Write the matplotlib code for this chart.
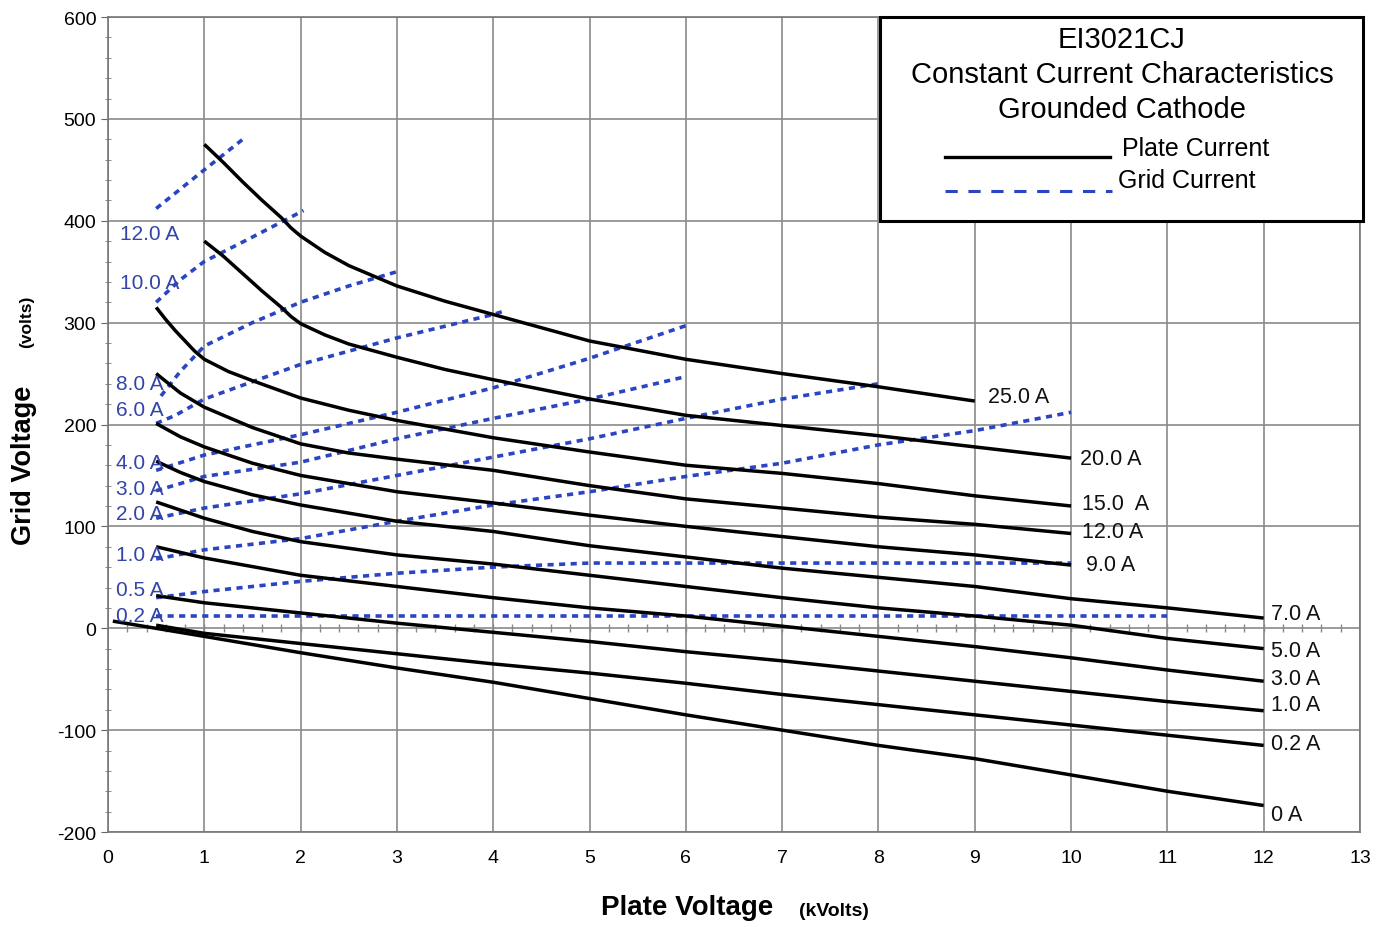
import matplotlib
matplotlib.use("Agg")
import matplotlib.pyplot as plt
from matplotlib.patches import Rectangle
import numpy as np

plt.rcParams['font.family'] = ['Liberation Sans', 'DejaVu Sans']
plt.rcParams['axes.unicode_minus'] = False

# ---------------- Plate current curves (black) ----------------
plate_labels = ["25.0 A", "20.0 A", "15.0  A", "12.0 A", "9.0 A", "7.0 A",
                "5.0 A", "3.0 A", "1.0 A", "0.2 A", "0 A"]
plate_x = [
    [1, 1.2, 1.4, 1.6, 1.8, 1.9, 2, 2.25, 2.5, 3, 3.5, 4, 5, 6, 7, 8, 9],
    [1, 1.2, 1.4, 1.6, 1.8, 1.9, 2, 2.25, 2.5, 3, 3.5, 4, 5, 6, 7, 8, 9, 10],
    [0.5, 0.6, 0.7, 0.8, 0.9, 1.0, 1.25, 1.5, 2, 2.5, 3, 4, 5, 6, 7, 8, 9, 10],
    [0.5, 0.75, 1, 1.5, 2, 2.5, 3, 4, 5, 6, 7, 8, 9, 10],
    [0.5, 0.75, 1, 1.5, 2, 3, 4, 5, 6, 7, 8, 9, 10],
    [0.5, 0.75, 1, 1.5, 2, 3, 4, 5, 6, 7, 8, 9, 10, 11, 12],
    [0.5, 1, 1.5, 2, 3, 4, 5, 6, 7, 8, 9, 10, 11, 12],
    [0.5, 1, 2, 3, 4, 5, 6, 7, 8, 9, 10, 11, 12],
    [0.5, 1, 2, 3, 4, 5, 6, 7, 8, 9, 10, 11, 12],
    [0.5, 1, 2, 3, 4, 5, 6, 7, 8, 9, 10, 11, 12],
    [0.05, 1, 2, 3, 4, 5, 6, 7, 8, 9, 10, 11, 12],
]
plate_v = [
    [475, 457, 438, 420, 403, 393, 385, 369, 356, 336, 321, 308, 282, 264, 250, 237, 223],
    [380, 365, 348, 331, 315, 306, 299, 288, 279, 266, 254, 244, 225, 209, 199, 189, 178, 167],
    [315, 303, 292, 282, 272, 264, 252, 243, 226, 214, 204, 187, 173, 160, 152, 142, 130, 120],
    [250, 231, 217, 197, 181, 172, 166, 155, 140, 127, 118, 109, 102, 93],
    [201, 188, 178, 162, 150, 134, 123, 111, 100, 90, 80, 72, 62],
    [164, 153, 144, 131, 121, 105, 95, 81, 70, 59, 50, 41, 29, 20, 10],
    [124, 108, 95, 85, 72, 63, 52, 41, 30, 20, 12, 3, -10, -20],
    [80, 69, 52, 41, 30, 20, 12, 2, -8, -18, -29, -41, -52],
    [32, 25, 15, 5, -4, -13, -23, -32, -42, -52, -62, -72, -81],
    [3, -5, -15, -25, -35, -44, -54, -65, -75, -85, -95, -105, -115],
    [7, -8, -24, -39, -53, -69, -85, -100, -115, -128, -144, -160, -174],
]
plate_label_xy = [(9.14, 227), (10.09, 167), (10.11, 122), (10.11, 95), (10.15, 63),
                  (12.08, 14), (12.08, -22), (12.08, -49), (12.08, -75),
                  (12.08, -113), (12.08, -183)]

# ---------------- Grid current curves (blue dashed) ----------------
grid_labels = ["12.0 A", "10.0 A", "8.0 A", "6.0 A", "4.0 A", "3.0 A",
               "2.0 A", "1.0 A", "0.5 A", "0.2 A"]
grid_x = [
    [0.5, 1.0, 1.4],
    [0.5, 0.75, 1.0, 1.5, 2.03],
    [0.55, 0.75, 1.0, 1.5, 2.0, 2.5, 3.0],
    [0.5, 0.7, 1.0, 1.5, 2.0, 3.0, 4.0, 4.1],
    [0.5, 1, 2, 3, 4, 5, 6],
    [0.5, 1, 2, 3, 4, 5, 6],
    [0.5, 1, 2, 3, 4, 5, 6, 7, 8],
    [0.5, 1, 2, 3, 4, 5, 6, 7, 8, 9, 10],
    [0.5, 1, 2, 3, 4, 5, 6, 8, 10],
    [0.5, 11],
]
grid_v = [
    [412, 450, 480],
    [320, 342, 360, 384, 410],
    [228, 252, 277, 300, 320, 336, 350],
    [201, 209, 225, 242, 259, 285, 308, 311],
    [155, 170, 190, 212, 236, 265, 297],
    [135, 149, 163, 186, 206, 225, 247],
    [108, 118, 132, 150, 168, 186, 206, 225, 240],
    [68, 77, 88, 105, 121, 134, 149, 162, 180, 194, 212],
    [30, 36, 46, 54, 60, 64, 64, 64, 64],
    [12, 12],
]
grid_label_xy = [(0.12, 387), (0.12, 339), (0.08, 240), (0.08, 215), (0.08, 163),
                 (0.08, 137), (0.08, 113), (0.08, 72), (0.08, 38), (0.08, 13)]

x_ticks = list(range(0, 14))
y_ticks = [-200, -100, 0, 100, 200, 300, 400, 500, 600]

BLUE = '#2b45c2'

W, H = 1383, 928
fig = plt.figure(figsize=(W / 100, H / 100), dpi=100)
ax = fig.add_axes([108 / W, 1 - 833 / H, (1360 - 108) / W, (833 - 18) / H])
ax.set_xlim(0, 13)
ax.set_ylim(-200, 600)
ax.set_xticks(x_ticks)
ax.set_yticks(y_ticks)
ax.set_yticks(np.arange(-200, 601, 20), minor=True)
ax.grid(True, which='major', color='#8a8a8a', lw=1.2)
ax.tick_params(axis='both', which='major', labelsize=14, length=5, color='#666666')
ax.tick_params(axis='y', which='minor', length=4, direction='inout', color='#777777')
ax.tick_params(axis='x', which='major', length=0, pad=12)
for s in ax.spines.values():
    s.set_color('#777777')
    s.set_linewidth(1.2)

# small ticks along the zero line
ax.vlines(np.arange(0.2, 13.0, 0.2), -4, 4, color='#888888', lw=1, zorder=1)

for xs, vs in zip(plate_x, plate_v):
    ax.plot(xs, vs, color='black', lw=2.5, solid_capstyle='butt',
            solid_joinstyle='round', zorder=3)
for lab, (tx, ty) in zip(plate_labels, plate_label_xy):
    ax.text(tx, ty, lab, fontsize=15.5, color='#111111', va='center', ha='left', zorder=4)

for xs, vs in zip(grid_x, grid_v):
    ax.plot(xs, vs, color=BLUE, lw=2.6, dashes=(1.7, 1.5), zorder=2.5)
for lab, (tx, ty) in zip(grid_labels, grid_label_xy):
    ax.text(tx, ty, lab, fontsize=15, color='#3345a8', va='center', ha='left', zorder=4)

# title / legend box
bx0 = (880 - 108) / 1252
bx1 = (1363 - 108) / 1252
by0 = (833 - 222) / 815
ax.add_patch(Rectangle((bx0, by0), bx1 - bx0, 1.0 - by0, transform=ax.transAxes,
                       facecolor='white', edgecolor='black', lw=2.2, clip_on=False, zorder=10))


def fx(px):
    return px / W


def fy(py):
    return 1 - py / H


fig.text(fx(1122), fy(40), "EI3021CJ", fontsize=21, ha='center', va='center', zorder=11)
fig.text(fx(1122), fy(75), "Constant Current Characteristics", fontsize=21, ha='center', va='center', zorder=11)
fig.text(fx(1122), fy(110), "Grounded Cathode", fontsize=21, ha='center', va='center', zorder=11)
fig.text(fx(1122), fy(149), "Plate Current", fontsize=18, ha='left', va='center', zorder=11)
fig.text(fx(1118), fy(181), "Grid Current", fontsize=18, ha='left', va='center', zorder=11)
fig.add_artist(plt.Line2D([fx(945), fx(1110)], [fy(158), fy(158)], color='black', lw=2.4, zorder=11))
fig.add_artist(plt.Line2D([fx(945), fx(1112)], [fy(192), fy(192)], color=BLUE, lw=2.2,
                          dashes=(4, 3.5), zorder=11))

# axis labels
fig.text(fx(687), fy(908), "Plate Voltage", fontsize=20, fontweight='bold', ha='center', va='center')
fig.text(fx(834), fy(912), "(kVolts)", fontsize=14, fontweight='bold', ha='center', va='center')
fig.text(fx(24), fy(465), "Grid Voltage", fontsize=19.5, fontweight='bold', ha='center', va='center', rotation=90)
fig.text(fx(27), fy(322), "(volts)", fontsize=12.5, fontweight='bold', ha='center', va='center', rotation=90)

fig.savefig("out.png", dpi=100, facecolor='white')
